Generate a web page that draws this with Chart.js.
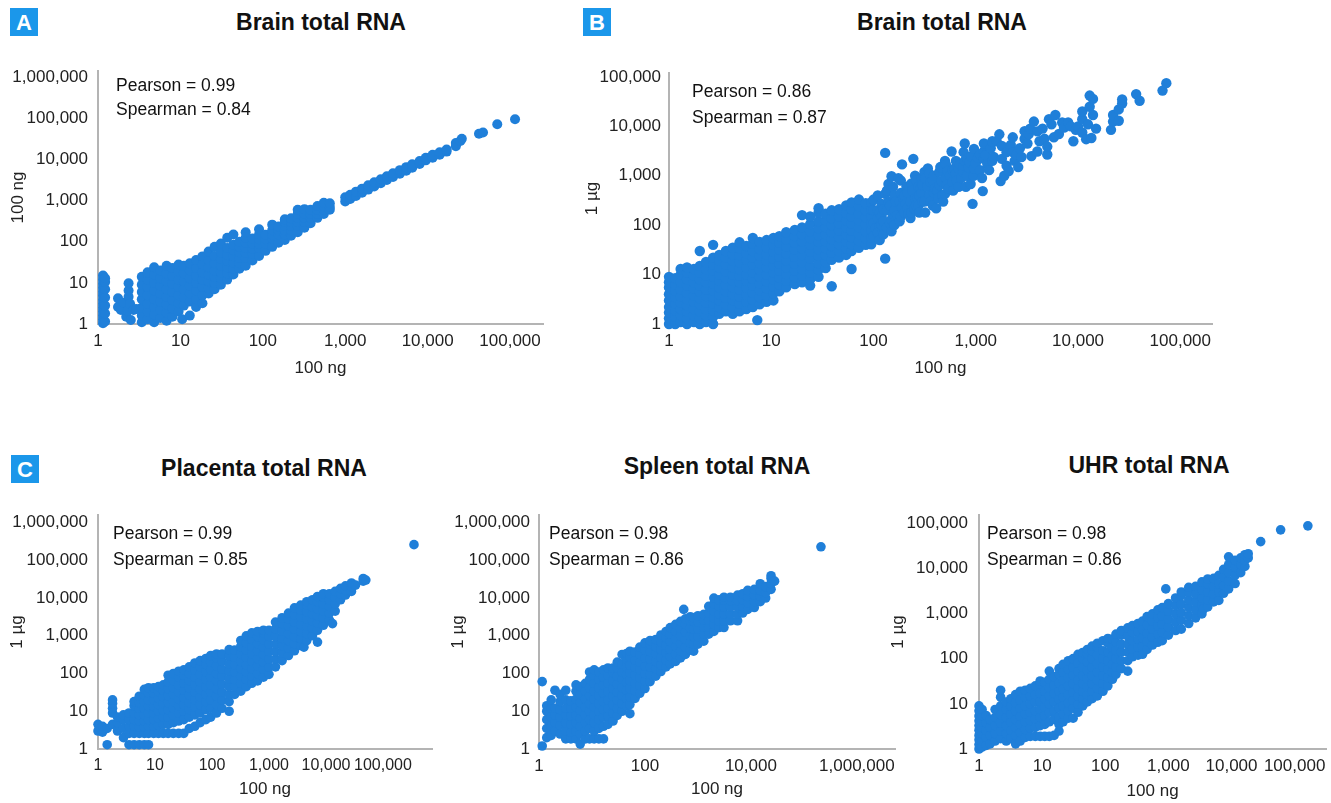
<!DOCTYPE html>
<html><head><meta charset="utf-8">
<script src="https://cdn.jsdelivr.net/npm/chart.js@4.4.1/dist/chart.umd.min.js"></script>
<style>
html,body{margin:0;padding:0;background:#fff;}
body{width:1331px;height:803px;position:relative;overflow:hidden;font-family:"Liberation Sans",Arial,sans-serif;color:#111;}
canvas{position:absolute;}
.box{position:absolute;width:28px;height:28px;background:#1b97ea;color:#fff;font-weight:bold;font-size:22px;text-align:center;line-height:29px;}
.title{position:absolute;font-weight:bold;font-size:23px;line-height:1;transform:translate(-50%,-50%);white-space:nowrap;color:#111;}
.ann{position:absolute;font-size:17.5px;line-height:1;transform:translateY(-50%);white-space:nowrap;color:#111;}
</style></head><body>
<div class="box" style="left:10px;top:8px">A</div>
<div class="box" style="left:583px;top:8px">B</div>
<div class="box" style="left:11px;top:455px">C</div>
<div class="title" style="left:321px;top:22px">Brain total RNA</div>
<div class="title" style="left:942px;top:22px">Brain total RNA</div>
<div class="title" style="left:264px;top:468px">Placenta total RNA</div>
<div class="title" style="left:717px;top:466px">Spleen total RNA</div>
<div class="title" style="left:1149px;top:465px">UHR total RNA</div>
<canvas id="cA" width="560" height="330" style="left:0;top:60px"></canvas>
<canvas id="cB" width="660" height="330" style="left:570px;top:60px"></canvas>
<canvas id="cC" width="440" height="303" style="left:0;top:500px"></canvas>
<canvas id="cD" width="470" height="303" style="left:440px;top:500px"></canvas>
<canvas id="cE" width="451" height="303" style="left:880px;top:500px"></canvas>
<div class="ann" style="left:116px;top:86px">Pearson = 0.99</div>
<div class="ann" style="left:116px;top:110px">Spearman = 0.84</div>
<div class="ann" style="left:692px;top:92px">Pearson = 0.86</div>
<div class="ann" style="left:692px;top:118px">Spearman = 0.87</div>
<div class="ann" style="left:113px;top:534px">Pearson = 0.99</div>
<div class="ann" style="left:113px;top:560px">Spearman = 0.85</div>
<div class="ann" style="left:549px;top:534px">Pearson = 0.98</div>
<div class="ann" style="left:549px;top:560px">Spearman = 0.86</div>
<div class="ann" style="left:987px;top:534px">Pearson = 0.98</div>
<div class="ann" style="left:987px;top:560px">Spearman = 0.86</div>
<script>
// ---- tick labels ----
const ticksA_x = [1,10,100,1000,10000,100000];
const ticksA_y = [1,10,100,1000,10000,100000,1000000];
const ticksB_x = [1,10,100,1000,10000,100000];
const ticksB_y = [1,10,100,1000,10000,100000];
const ticksPlacenta_x = [1,10,100,1000,10000,100000];
const ticksPlacenta_y = [1,10,100,1000,10000,100000,1000000];
const ticksSpleen_x = [1,100,10000,1000000];
const ticksSpleen_y = [1,10,100,1000,10000,100000,1000000];
const ticksUHR_x = [1,10,100,1000,10000,100000];
const ticksUHR_y = [1,10,100,1000,10000,100000];

// ---- axis titles ----
const xTitles = ["100 ng","100 ng","100 ng","100 ng","100 ng"];
const yTitles = ["100 ng","1 µg","1 µg","1 µg","1 µg"];

// ---- data: [x value, [y values at that x]] ----
const brainA = [
[1.15,[1.05,1.3,1.6,2,2.5,3.1,3.9,4.9,6.1,7.6,9.5,12,15]],
[1.22,[1.15,1.8,2.8,4.4,7,10.5,13]],
[1.75,[2.6,4.2]],[1.9,[2.2]],[2.05,[3.3]],[2.2,[1.5]],[2.3,[2.1]],
[2.35,[4.6,6.5,9.8]],[2.45,[3.1]],[2.5,[1.25]],[2.7,[2.2]],[2.9,[2.3]],
[3.4,[1.1,1.6,2.5,4,6,9,14]],
[4,[1.3,2,3.1,5,8,12,18]],
[4.8,[1.1,1.7,2.6,4,6.5,10,16,24]],
[5.7,[1.4,2.2,3.5,5.5,8.5,13,20]],
[6.8,[1.2,1.9,3,4.6,7,11,17,26]],
[8,[1.5,2.4,3.8,6,9.5,15,23]],
[9.5,[2,3.2,5,8,12,19,28]],
[10.5,[1.3]],
[11,[2.8,4.5,7,11,17,26]],
[13,[1.6,3.5,5.5,8.5,13,20,30]],
[15.5,[2.6,4,6.5,10,15,23,36]],
[18.5,[3.2,5,8,12,18,28,44]],
[22,[5.5,7.5,11,16,24,36,58]],
[26,[7,10,14,20,30,45,75]],
[31,[9,13,18,26,38,55,90]],
[37,[12,17,24,34,48,70,125]],
[44,[16,22,31,44,62,85,150]],
[52,[22,30,40,55,75,100]],
[62,[26,40,53,70,95,125,170]],
[75,[35,52,68,90,120]],
[90,[45,70,90,115,150,200]],
[108,[60,90,115,148]],
[130,[75,120,150,190,260]],
[155,[95,150,190,235]],
[185,[110,150,190,240,300,350]],
[220,[140,190,240,300,370]],
[265,[170,240,300,380,470,600]],
[320,[220,300,380,480,620]],
[380,[280,380,470,600]],
[460,[380,470,590,740]],
[550,[470,590,730,880]],
[650,[600,700,860]],
[1000,[950,1200]],
[1150,[1100,1380]],
[1350,[1300,1650]],
[1600,[1550,1950]],
[1900,[1850,2350]],
[2250,[2200,2800]],
[2700,[2650,3300]],
[3200,[3150,3900]],
[3800,[3750,4600]],
[4600,[4500,5500]],
[5500,[5300,6500]],
[6500,[6300,7600]],
[8000,[7800,9200]],
[9500,[9500,11000]],
[11500,[11000,13000]],
[14000,[13000,15000]],
[17000,[15500,17500]],
[22000,[21000,25000]],
[25000,[28000]],[26000,[32000]],
[42000,[42000]],[47000,[45000]],
[70000,[72000]],
[115000,[95000]]
];

const brainB = [
[1.0,[1,1.3,1.7,2.2,3,4,5.5,7,9]],
[1.15,[1,1.4,1.9,2.6,3.5,4.7,6.3,8.5]],
[1.3,[1.1,1.5,2,2.7,3.6,5,7,10,13]],
[1.5,[1,1.3,1.8,2.4,3.2,4.3,6,8,11,14]],
[1.75,[1.1,1.5,2,2.8,3.8,5.2,7,9.5,13]],
[2.0,[1,1.3,1.8,2.5,3.3,4.5,6,8,11,15,30]],
[2.3,[1.1,1.5,2,2.7,3.7,5,7,9.5,13,18]],
[2.7,[1,1.4,1.9,2.6,3.5,4.8,6.5,9,12,16,22,40]],
[3.1,[1.6,2.2,3,4,5.5,7.5,10,14,19,25]],
[3.6,[1.8,2.5,3.4,4.6,6.2,8.5,11.5,16,22,30]],
[4.2,[1.6,2.2,3,4,5.5,7.5,10,14,19,26,35]],
[4.9,[1.8,2.6,3.6,5,7,9.5,13,18,25,34,45]],
[5.7,[2,2.8,3.9,5.4,7.5,10,14,20,27,38]],
[6.6,[2.2,3.1,4.3,6,8.2,11,16,22,30,42,55]],
[7.3,[1.2]],
[7.7,[2.5,3.5,4.8,6.6,9,12.5,17,24,33,46]],
[9,[2.8,3.8,5.3,7.3,10,14,19,26,36,50]],
[10.5,[3,4.2,5.8,8,11,15,21,29,40,55]],
[12,[4.6,6.3,8.7,12,16.5,23,32,44,60]],
[14,[5.5,7.5,10.3,14,19.5,27,37,52,72]],
[17,[6.4,8.8,12,16.5,23,32,44,60,80]],
[20,[7,9.5,13,18,25,34,47,65,90,160]],
[24,[6,8,11,15,21,29,40,55,75,105,150]],
[29,[9,12.5,17,24,33,46,63,87,120,180,220]],
[34,[13.5,18,25,34,47,65,90,125,170]],
[39,[5.8,20,28,38,52,72,100,140,200]],
[46,[22,30,41,57,78,108,150,210]],
[54,[25,34,47,65,90,125,175,250]],
[61,[13,30,41,57,78,108,150,210,290]],
[72,[35,48,66,90,125,170,240,330]],
[84,[40,55,76,105,145,200,280]],
[95,[41,56,78,108,150,210,290]],
[100,[60,110,200,330]],[105,[87]],[110,[70,140,200,400]],[115,[50,95,180]],[120,[100,150,270]],
[125,[65,120,210]],[130,[21,430,2900]],[135,[90,200,500]],[140,[300,680]],[145,[110,250]],
[150,[75,130,980]],[155,[170,600]],[160,[100,200,400]],[165,[300]],[170,[160]],[175,[890]],
[180,[120,300]],[185,[150,450,800]],[190,[230,1700]],[195,[350]],
[200,[180,400]],[205,[270]],[210,[600]],[215,[220,450]],[220,[170]],[230,[140,300]],
[235,[180,700]],[240,[500]],[245,[2200]],[250,[220]],[255,[350,1000]],[260,[250,800]],
[270,[350]],[275,[250,600]],[280,[180,400]],[290,[560]],[295,[450,900]],
[300,[300,650]],[315,[300,1200]],[320,[180,890]],[335,[600]],[340,[1400]],[350,[400,1100]],
[360,[300,750]],[380,[250,800]],[390,[450,1000]],
[400,[560]],[410,[220]],[420,[500]],[430,[350]],[440,[650,1200]],[450,[1500]],[460,[780]],
[470,[400]],[480,[300]],
[500,[430,2000]],[510,[900,1700]],[520,[650]],[530,[1250]],[540,[550]],[560,[1000]],[580,[3100]],
[590,[750,1300]],[600,[500]],
[620,[1400]],[640,[1100,2000]],[650,[800]],[680,[600,1400]],[700,[1700]],[720,[900]],
[750,[1200]],[760,[1600,3000]],[780,[2000,4500]],[800,[600]],
[820,[1000]],[830,[2200]],[850,[1500]],[870,[1900]],[890,[680]],[900,[2500]],[930,[270]],[950,[1000]],
[960,[1400,3500]],[1000,[1800]],[1050,[2300]],[1100,[1300,2700]],[1150,[900]],[1170,[490]],
[1200,[2200,3100,4500]],[1250,[2600]],[1300,[1700]],[1350,[1300]],
[1400,[3600]],[1450,[2000,5000]],[1500,[2400]],[1600,[5000]],[1700,[6900]],[1750,[780]],
[1800,[2200,4000]],[1900,[1000]],
[2000,[1600,3000]],[2100,[1250]],[2200,[4200]],[2300,[3000,6000]],[2400,[2000]],[2500,[2700]],
[2600,[1500]],[2700,[3600]],[2800,[2400]],[3000,[5600,8000]],[3200,[4500]],[3300,[7000]],
[3400,[9000]],[3500,[2500]],[3700,[12500]],
[4000,[3100,7900]],[4200,[5000]],[4500,[9000]],[4700,[5600]],[5000,[2700,3900]],[5200,[14000]],
[5500,[11000]],[5800,[6000]],[6000,[17000]],[6500,[7000]],[7000,[12000]],[7300,[9500]],
[8000,[12000]],[8500,[10000]],[9000,[5000]],
[9500,[8500]],[10000,[10000]],[11000,[7500,14000,20000]],[12000,[5500]],[12500,[11000]],
[13000,[25000,42000]],[13500,[5800]],[14000,[17000,36000]],[15000,[9000]],[21000,[8500]],
[22000,[12500,17000]],[25000,[13000,22000]],
[27000,[29000,35000]],[37000,[45000]],[40000,[33000]],[67000,[53000]],[73000,[75000]]
];

const placenta = [
[1.0,[3,4.5]],[1.2,[2.8,4]],[1.45,[1.3,3.5]],
[1.8,[4.5,9,12,16,20]],
[2.2,[3,5,7]],
[2.8,[2,3.5,6,8]],
[3.5,[1.3,2.6,4,6,9]],
[4.3,[1.3,2.6,4,6,9,14,18]],
[5.3,[1.3,2.6,3.8,5.5,8,12,17,25]],
[6.5,[1.3,2.6,3.8,5.5,8,12,18,27,38]],
[7.7,[1.3,2.6,4,6,9,13.5,20,30,42]],
[9.5,[2.6,4,6,9,13.5,20,30,42]],
[11.5,[2.6,4.2,6.5,10,15,22,33,45]],
[14,[2.6,4.5,7,10.5,16,24,36,50]],
[17,[2.6,4.5,7,11,17,26,40,60,90]],
[21,[2.6,5,8,12,18,28,42,65,100]],
[26,[2.6,5.5,9,14,21,32,50,80,115]],
[32,[2.6,6,10,15,23,36,55,90,125]],
[40,[3.5,7,11,17,27,42,65,100,150]],
[50,[4,8,13,20,32,50,80,125,190]],
[62,[5,9,15,24,38,60,95,150,220]],
[78,[6,11,18,28,45,70,110,175,250]],
[95,[7,12,20,32,50,80,125,200,300]],
[120,[9,15,25,40,65,100,160,260,330]],
[150,[12,20,32,52,85,130,210,330]],
[200,[10,18,28,45,72,115,180,290,430]],
[250,[28,45,70,110,170,270,420]],
[320,[34,55,85,135,210,330,520,750]],
[400,[45,70,110,170,270,420,650,1000]],
[500,[55,85,135,210,330,520,800,1200]],
[630,[64,100,160,250,400,620,950,1300]],
[800,[80,130,200,320,500,780,1200,1400]],
[1000,[95,150,240,380,600,950,1400]],
[1300,[150,240,380,600,950,1500,2300]],
[1700,[220,350,550,850,1350,2100,3000]],
[2200,[300,470,750,1150,1800,2800,4000]],
[2800,[400,620,950,1500,2300,3600,5500]],
[3600,[550,850,1300,2000,3100,4800,6500]],
[4100,[500]],
[4600,[750,1150,1800,2800,4300,6500,8000]],
[5800,[1000,1600,2500,3800,5800,9000]],
[7100,[680,1400,2200,3400,5200,8000,11000]],
[9000,[1900,3000,4600,7000,10500,13000]],
[11500,[2600,4000,6000,9000,13000]],
[13000,[2100]],
[14500,[4500,7000,10500,15000]],
[18000,[9000,13000,18000]],
[22000,[12000,16000,21000]],
[28000,[15000,20000,25000]],
[33000,[22000]],
[45000,[28000,33000]],
[50000,[30000]],
[350000,[260000]]
];

const spleen = [
[1.15,[1.2,61]],
[1.4,[2,3.5,6,10,14]],
[1.7,[2.3,4,7,12,20]],
[2,[3,5,8,12,36]],
[2.5,[2.5,4.2,7,11,18,28]],
[3.2,[1.85,3,5,8,12,20,36]],
[4,[1.85,2.8,4.5,7.5,12,19]],
[5,[1.85,3,5,8,13,21,34,50]],
[6,[1.35,2.5,4,6.5,10.5,17,28,45]],
[7.5,[1.85,3,5,8,13,21,34,55]],
[9,[1.85,3.5,6,10,16,26,42,70,110]],
[11,[1.85,3,5,8,13,21,34,55,90,125]],
[13.5,[1.85,3.5,6,10,16,26,42,70,110]],
[16.5,[1.85,4,7,11,18,30,50,80,125]],
[20,[4.5,7.5,12,20,33,55,90,140]],
[25,[5.5,9,15,25,40,65,105,140]],
[30,[7.8,12,20,32,52,85,140,200]],
[37,[10,16,26,42,70,110,180,320]],
[45,[14,22,36,58,95,150,240,340]],
[52,[8.6,15,24,40,65,105,170,280,390]],
[65,[22,35,55,90,145,230,370]],
[80,[30,48,78,125,200,320,500]],
[100,[40,62,100,160,260,420,650]],
[125,[61,95,150,240,380,600,750]],
[160,[85,135,210,330,520,800]],
[200,[113,170,270,430,680,1050]],
[250,[150,230,360,570,900,1300]],
[300,[180,280,440,700,1100,1650]],
[380,[210,330,520,820,1300,2000]],
[470,[260,400,630,1000,1600,2400]],
[540,[5000]],
[580,[320,500,800,1250,2000,2800]],
[720,[420,650,1000,1600,2500,3200]],
[830,[390,600,950,1500,2400,3000]],
[1000,[600,950,1500,2300,3400]],
[1290,[720,1100,1700,2600,3700]],
[1600,[1100,1700,2600,4000,6000]],
[2000,[1300,2000,3000,4600,7000,10000]],
[2500,[1650,2500,3800,6000,9000]],
[3100,[1650,2500,3800,5800,9000,10500]],
[4100,[2500,3800,5800,8500,10500]],
[5600,[2500,3800,5800,8500,12000]],
[7000,[4000,6000,9000,13000]],
[8700,[5000,7500,11000,16000]],
[11600,[5600,8000,12000,17000]],
[15000,[8000,11000,16000,24000]],
[19000,[10000,14000,20000]],
[24000,[17000,24000,33000,39000]],
[28000,[28000]],
[210000,[228000]]
];

const uhr = [
[1.0,[1,1.25,1.6,2,2.6,3.3,4.2,5.4,7,9]],
[1.12,[1.1,1.5,2.2,3,4,5.5,7.5]],
[1.3,[1.2,1.8,2.6,3.8,5.5]],
[1.5,[1.3,2,3,4.5]],
[1.8,[1.5,2.2,3.3,5,7.5]],
[2.2,[1.7,2.5,3.8,5.8,9,14,20]],
[2.7,[1.5,2.2,3.3,5,7.5,11]],
[3.2,[1.7,2.6,4,6,9,13]],
[3.8,[1.3,2,3,4.5,7,10.5,16]],
[4.5,[1.5,2.3,3.5,5.3,8,12,19]],
[5.4,[1.8,2.7,4,6,9,14,20]],
[6.5,[1.9,2.9,4.3,6.5,10,15,22]],
[7.8,[1.9,3,4.6,7,11,16,25]],
[9.3,[1.9,3.3,5,7.5,11.5,17,27,32]],
[11,[1.9,3.5,5.5,8.5,13,19,30]],
[13,[1.9,4,6.5,10,15,23,35,53]],
[15.5,[2,4.5,7,11,17,26,40]],
[18.5,[2.5,3.5,5,8,12.5,19,29,45,60]],
[21.5,[4,6,9,14,21,33,50,75]],
[26,[4.8,7,10.5,16,25,38,58,90]],
[31,[4.8,8,12,18,28,43,65,100]],
[37,[6.5,10,15,22,34,52,80,125]],
[44,[9,13,19,28,42,65,100,137]],
[52,[11,16,24,36,55,85,130,160]],
[62,[13,19,28,42,65,100,150,190]],
[75,[15,22,33,50,78,120,180,220]],
[92,[19,28,42,65,100,150,250]],
[110,[25,38,58,90,140,220,280]],
[130,[35,50,75,115,175,270]],
[148,[45,65,100,150,230,350]],
[180,[60,90,140,210,330,420]],
[227,[53,90,140,210,320,480]],
[270,[110,165,250,380,540]],
[330,[120,180,270,400,600]],
[390,[125,190,290,440,680]],
[460,[160,240,370,560,850]],
[560,[200,300,450,680,980]],
[680,[230,350,530,800,1200]],
[800,[250,380,580,880,1350]],
[910,[3500]],
[1000,[330,500,760,1150,1650]],
[1300,[420,640,980,1500,2200]],
[1600,[450,700,1050,1600,2500,3000]],
[2100,[600,900,1350,2000,3000,3800]],
[2700,[800,1200,1800,2700,4000]],
[3400,[980,1500,2200,3300,5000]],
[3600,[1260]],
[4200,[1400,2000,3000,4500,5800]],
[5200,[1800,2700,4000,6000]],
[6300,[1950,3000,4500,7000]],
[7500,[2800,4200,6500,9500]],
[9000,[3500,5200,8000,12000,18000]],
[11400,[4600,7000,10500,15000]],
[14000,[8000,12000,17000]],
[16300,[11000,15000,20000]],
[18400,[17000,21000]],
[29000,[39000]],
[60000,[71000]],
[162000,[87000]]
];

// ---- rendering ----
const FONT = '"Liberation Sans", Arial, sans-serif';
const DOT = '#1f7fd9';
const AXIS = '#b4b4b4';
Chart.defaults.font.family = FONT;

function toPoints(cols){ const out=[]; cols.forEach(c=>c[1].forEach(y=>out.push({x:c[0],y:y}))); return out; }
const fmt = v => Number(v).toLocaleString('en-US');

function makeChart(id, cols, o){
  new Chart(document.getElementById(id), {
    type:'scatter',
    data:{datasets:[{data:toPoints(cols), backgroundColor:DOT, borderWidth:0, pointRadius:o.r, pointHoverRadius:o.r, clip:false}]},
    options:{
      responsive:false, animation:false, events:[],
      plugins:{legend:{display:false}, tooltip:{enabled:false}},
      layout:{padding:{left:0, right:o.padR, top:o.padT, bottom:0}},
      scales:{
        x:{type:'logarithmic', min:1, max:o.xMax,
           afterBuildTicks:ax=>{ax.ticks=o.xTicks.map(v=>({value:v}));},
           afterFit:s=>{s.height=o.xH; s.paddingLeft=0; s.paddingRight=0;},
           grid:{display:false, drawTicks:false},
           border:{display:true, color:AXIS, width:2},
           ticks:{callback:fmt, color:'#222', font:{size:o.xFont||17}, padding:7, maxRotation:0, autoSkip:false},
           title:{display:true, text:o.xTitle, color:'#222', font:{size:17}, padding:{top:0,bottom:o.xTitlePad}}},
        y:{type:'logarithmic', min:1, max:o.yMax,
           afterBuildTicks:ax=>{ax.ticks=o.yTicks.map(v=>({value:v}));},
           afterFit:s=>{s.width=o.yW; s.paddingTop=0; s.paddingBottom=0;},
           grid:{display:false, drawTicks:false},
           border:{display:true, color:AXIS, width:2},
           ticks:{callback:fmt, color:'#222', font:{size:17}, padding:o.tp, autoSkip:false},
           title:{display:true, text:o.yTitle, color:'#222', font:{size:17}, padding:{top:o.yTitlePad,bottom:0}}}
      }
    }
  });
}

makeChart('cA', brainA, {r:5, xTicks:ticksA_x, yTicks:ticksA_y, xMax:Math.pow(10,5.4), yMax:Math.pow(10,6.15), yW:98, padT:11, padR:17, xH:66, tp:10, xTitle:xTitles[0], yTitle:yTitles[0], yTitlePad:8, xTitlePad:11});
makeChart('cB', brainB, {r:5.2, xTicks:ticksB_x, yTicks:ticksB_y, xMax:Math.pow(10,5.31), yMax:Math.pow(10,5.08), yW:99, padT:13, padR:18, xH:66, tp:8, xTitle:xTitles[1], yTitle:yTitles[1], yTitlePad:12, xTitlePad:11});
makeChart('cC', placenta, {r:4.8, xFont:16, xTicks:ticksPlacenta_x, yTicks:ticksPlacenta_y, xMax:Math.pow(10,5.86), yMax:Math.pow(10,6.2), yW:98, padT:15, padR:8, xH:54, tp:10, xTitle:xTitles[2], yTitle:yTitles[2], yTitlePad:7, xTitlePad:3});
makeChart('cD', spleen, {r:4.8, xTicks:ticksSpleen_x, yTicks:ticksSpleen_y, xMax:Math.pow(10,6.72), yMax:Math.pow(10,6.2), yW:99, padT:15, padR:15, xH:54, tp:9, xTitle:xTitles[3], yTitle:yTitles[3], yTitlePad:8, xTitlePad:3});
makeChart('cE', uhr, {r:4.8, xTicks:ticksUHR_x, yTicks:ticksUHR_y, xMax:Math.pow(10,5.5), yMax:Math.pow(10,5.18), yW:99, padT:15, padR:0, xH:54, tp:11, xTitle:xTitles[4], yTitle:yTitles[4], yTitlePad:8, xTitlePad:1});
</script>
</body></html>
